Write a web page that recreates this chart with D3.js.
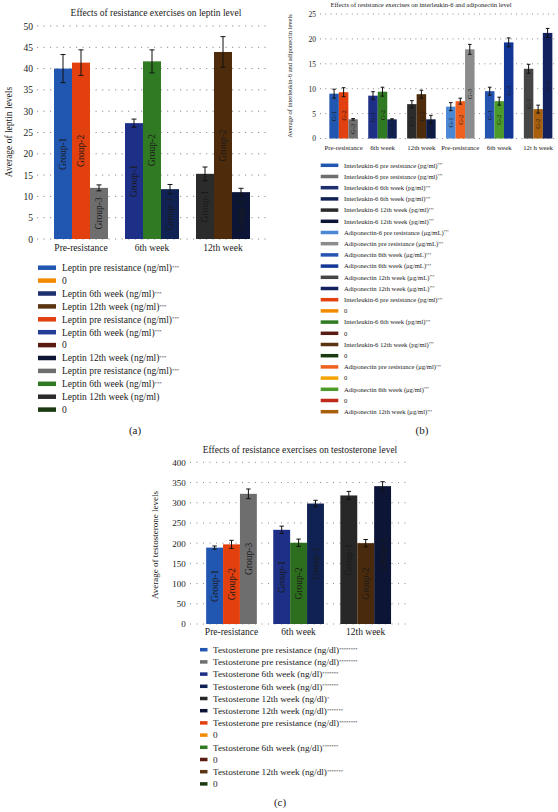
<!DOCTYPE html>
<html>
<head>
<meta charset="utf-8">
<script src="https://cdn.jsdelivr.net/npm/d3@7"></script>
<style>
  html, body { margin: 0; padding: 0; background: #ffffff; }
  svg { display: block; }
  text { font-family: "Liberation Serif", "DejaVu Serif", serif; fill: #1a1a1a; }
</style>
</head>
<body>
<script>
// ---------------- DATA ----------------
const groupLabels = ["Group-1", "Group-2", "Group-3"];
const shortGroupLabels = ["G-1", "G-2", "G-3"];

// (a) Leptin
const leptinCategories = ["Pre-resistance", "6th week", "12th week"];
const leptinValues = [[40.0, 41.4, 12.0], [27.2, 41.7, 11.7], [15.3, 43.9, 11.0]];
const leptinErrors = [[3.3, 3.0, 0.7], [0.95, 2.7, 1.1], [1.6, 3.6, 0.9]];
const leptinBarColors = [["#2157b0", "#e2400f", "#6e6e6e"], ["#1d2f86", "#2f7a22", "#0f2253"], ["#2b2b2b", "#4e2c0b", "#0c1535"]];
const leptinTicks = [0, 5, 10, 15, 20, 25, 30, 35, 40, 45, 50];
const leptinLegendLabels = ["Leptin pre resistance (ng/ml)", "0", "Leptin 6th week (ng/ml)", "Leptin 12th week (ng/ml)", "Leptin pre resistance (ng/ml)", "Leptin 6th week (ng/ml)", "0", "Leptin 12th week (ng/ml)", "Leptin pre resistance (ng/ml)", "Leptin 6th week (ng/ml)", "Leptin 12th week (ng/ml)", "0"];
const leptinLegendMarks = ["***", "", "***", "***", "***", "***", "", "***", "***", "***", "", ""];
const leptinLegendColors = ["#2157b0", "#f28b00", "#1d2f6e", "#5b3511", "#e2400f", "#233d96", "#5a1b12", "#0c1535", "#6e6e6e", "#2f7a22", "#2b2b2b", "#1b3a12"];

// (b) Interleukin-6 and adiponectin
const ilCategories = ["Pre-resistance", "6th week", "12th week", "Pre-resistance", "6th week", "12t h week"];
const ilValues = [[9.0, 9.3, 3.85], [8.6, 9.4, 3.85], [6.9, 8.9, 3.85], [6.4, 7.5, 17.9], [9.5, 7.5, 19.3], [14.0, 5.9, 21.2]];
const ilErrors = [[0.9, 0.9, 0.15], [0.8, 0.9, 0.12], [0.7, 0.8, 0.8], [0.8, 0.6, 1.0], [0.8, 0.8, 0.9], [0.9, 0.8, 0.9]];
const ilBarColors = [["#2157b0", "#e2400f", "#6e6e6e"], ["#1d2f86", "#2f7a22", "#0f2253"], ["#2b2b2b", "#4e2c0b", "#0c1b45"], ["#4a87d4", "#f0601f", "#8c8c8c"], ["#2453b0", "#4c9a2a", "#123696"], ["#454545", "#a8600f", "#13215e"]];
const ilTicks = [0, 5, 10, 15, 20, 25];
const ilLegendLabels = ["Interleukin-6 pre resistance (pg/ml)", "Interleukin-6 pre resistance (pg/ml)", "Interleukin-6 6th week (pg/ml)", "Interleukin-6 6th week (pg/ml)", "Interleukin-6 12th week (pg/ml)", "Interleukin-6 12th week (pg/ml)", "Adiponectin-6 pre resistance (\u03bcg/mL)", "Adiponectin pre resistance (\u03bcg/mL)", "Adiponectin 6th week (\u03bcg/mL)", "Adiponectin 6th week (\u03bcg/mL)", "Adiponectin 12th week (\u03bcg/mL)", "Adiponectin 12th week (\u03bcg/mL)", "Interleukin-6 pre resistance (pg/ml)", "0", "Interleukin-6 6th week (pg/ml)", "0", "Interleukin-6 12th week (pg/ml)", "0", "Adiponectin pre resistance (\u03bcg/ml)", "0", "Adiponectin 6th week (\u03bcg/ml)", "0", "Adiponectin 12th week (\u03bcg/ml)"];
const ilLegendMarks = ["***", "***", "***", "***", "***", "***", "***", "***", "***", "***", "***", "***", "***", "", "***", "", "***", "", "***", "", "***", "", "***"];
const ilLegendColors = ["#2157b0", "#6e6e6e", "#1d2f6e", "#0f2253", "#2b2b2b", "#0c1535", "#4a87d4", "#8c8c8c", "#2453b0", "#123696", "#454545", "#13215e", "#e2400f", "#f28b00", "#2f7a22", "#5a1b12", "#5b3511", "#1b3a12", "#f0601f", "#f5a300", "#4c9a2a", "#c02a18", "#a8600f"];

// (c) Testosterone
const testoCategories = ["Pre-resistance", "6th week", "12th week"];
const testoValues = [[189, 197, 322], [233, 201, 298], [318, 200, 341]];
const testoErrors = [[4, 10, 12], [9, 9, 8], [10, 9, 11]];
const testoBarColors = [["#2157b0", "#e2400f", "#6e6e6e"], ["#1d2f86", "#2d6e1e", "#0f2253"], ["#272727", "#4a2a0c", "#0c1535"]];
const testoTicks = [0, 50, 100, 150, 200, 250, 300, 350, 400];
const testoLegendLabels = ["Testosterone pre resistance (ng/dl)", "Testosterone pre resistance (ng/dl)", "Testosterone 6th week (ng/dl)", "Testosterone 6th week (ng/dl)", "Testosterone 12th week (ng/dl)", "Testosterone 12th week (ng/dl)", "Testosterone pre resistance (ng/dl)", "0", "Testosterone 6th week (ng/dl)", "0", "Testosterone 12th week (ng/dl)", "0"];
const testoLegendMarks = ["********", "********", "*******", "*******", "*", "*******", "********", "", "*******", "", "*******", ""];
const testoLegendColors = ["#2157b0", "#6e6e6e", "#1d2f86", "#0f2253", "#272727", "#0c1535", "#e2400f", "#f28b00", "#2f7a22", "#5a1b12", "#5b3511", "#1b3a12"];

// ---------------- DRAWING ----------------
const svg = d3.select("body").append("svg").attr("width", 558).attr("height", 812);

function drawPanel(o) {
  const g = svg.append("g");
  const step = (o.lastCenter - o.firstCenter) / (o.categories.length - 1);
  const pi = 1 - o.groupWidth / step;
  const x0 = d3.scaleBand().domain(o.categories.map((c, i) => i))
    .range([o.firstCenter - step / 2, o.lastCenter + step / 2])
    .paddingInner(pi).paddingOuter(pi / 2);
  const x1 = d3.scaleBand().domain(d3.range(3)).range([0, x0.bandwidth()]);
  const y = d3.scaleLinear().domain(o.domain).range([o.y0, o.yTop]);

  // gridlines
  g.selectAll(".grid").data(o.ticks).join("line")
    .attr("x1", o.gridX0).attr("x2", o.gridX1)
    .attr("y1", d => y(d)).attr("y2", d => y(d))
    .attr("stroke", "#8a8a8a").attr("stroke-width", 1)
    .attr("stroke-dasharray", o.dash);
  // y tick labels
  const yAxis = d3.axisLeft(y).tickValues(o.ticks).tickSize(0).tickPadding(0);
  const ya = g.append("g").attr("transform", `translate(${o.tickX},0)`).call(yAxis);
  ya.select(".domain").remove();
  ya.selectAll("text").attr("font-size", o.tickFont).attr("fill", "#1a1a1a")
    .style("font-family", '"Liberation Serif", serif');

  // bars
  const groups = g.selectAll(".grp").data(o.values).join("g")
    .attr("transform", (d, i) => `translate(${x0(i)},0)`);
  groups.each(function (vals, ci) {
    const gg = d3.select(this);
    vals.forEach((v, gi) => {
      const bx = x1(gi), bw = x1.bandwidth();
      gg.append("rect").attr("x", bx).attr("y", y(v)).attr("width", bw)
        .attr("height", y(o.domain[0]) - y(v)).attr("fill", o.colors[ci][gi]);
      // error bar
      const e = o.errors[ci][gi], cx = bx + bw / 2;
      gg.append("line").attr("x1", cx).attr("x2", cx).attr("y1", y(v + e)).attr("y2", y(v - e))
        .attr("stroke", "#111").attr("stroke-width", 1);
      [v + e, v - e].forEach(t => gg.append("line")
        .attr("x1", cx - o.cap).attr("x2", cx + o.cap).attr("y1", y(t)).attr("y2", y(t))
        .attr("stroke", "#111").attr("stroke-width", 1));
      // rotated label
      const my = (y(v) + y(o.domain[0])) / 2;
      gg.append("text").attr("transform", `translate(${cx},${my}) rotate(-90)`)
        .attr("text-anchor", "middle").attr("dy", "0.35em")
        .attr("font-size", o.barFont).attr("fill", "#111").text(o.barLabels[gi]);
    });
  });

  // x labels
  g.selectAll(".xl").data(o.categories).join("text")
    .attr("x", (d, i) => x0(i) + x0.bandwidth() / 2).attr("y", o.xLabelY)
    .attr("text-anchor", "middle").attr("font-size", o.xFont).text(d => d);

  // title
  g.append("text").attr("x", o.titleX).attr("y", o.titleY).attr("text-anchor", "middle")
    .attr("font-size", o.titleFont).text(o.title);
  // y label
  g.append("text").attr("transform", `translate(${o.yLabelX},${o.yLabelY}) rotate(-90)`)
    .attr("text-anchor", "middle").attr("dy", "0.35em").attr("font-size", o.yLabelFont).text(o.yLabel);

  // legend
  const lg = g.selectAll(".lg").data(o.legendLabels).join("g")
    .attr("transform", (d, i) => `translate(0,${o.legY0 + i * o.legStep})`);
  lg.append("rect").attr("x", o.swX0).attr("y", -o.swH / 2).attr("width", o.swX1 - o.swX0).attr("height", o.swH)
    .attr("fill", (d, i) => o.legendColors[i]);
  const lt = lg.append("text").attr("x", o.legTextX).attr("dy", "0.35em").attr("font-size", o.legFont);
  lt.append("tspan").text(d => d);
  lt.append("tspan").attr("dy", "-0.45em").attr("font-size", o.legFont * 0.5)
    .text((d, i) => o.legendMarks[i]);

  // panel label
  g.append("text").attr("x", o.panelX).attr("y", o.panelY).attr("text-anchor", "middle")
    .attr("font-size", 11).text(o.panel);
}

drawPanel({
  categories: leptinCategories, values: leptinValues, errors: leptinErrors, colors: leptinBarColors,
  ticks: leptinTicks, domain: [0, 50], y0: 239, yTop: 26,
  firstCenter: 81, lastCenter: 223, groupWidth: 54,
  gridX0: 37, gridX1: 268, dash: "1.2,5.3", tickX: 33, tickFont: 9.5,
  cap: 2.5, barFont: 9.5, barLabels: groupLabels,
  xLabelY: 250.5, xFont: 9.5,
  title: "Effects of resistance exercises on leptin level", titleX: 156, titleY: 16, titleFont: 9.5,
  yLabel: "Average of leptin levels", yLabelX: 9, yLabelY: 132, yLabelFont: 9.5,
  legendLabels: leptinLegendLabels, legendMarks: leptinLegendMarks, legendColors: leptinLegendColors,
  legY0: 267.7, legStep: 12.9, swX0: 38, swX1: 56, swH: 4.5, legTextX: 62, legFont: 9.5,
  panel: "(a)", panelX: 135, panelY: 434
});

drawPanel({
  categories: ilCategories, values: ilValues, errors: ilErrors, colors: ilBarColors,
  ticks: ilTicks, domain: [0, 25], y0: 138.5, yTop: 14,
  firstCenter: 343.6, lastCenter: 538.1, groupWidth: 28.5,
  gridX0: 320, gridX1: 557, dash: "1,4.3", tickX: 316, tickFont: 7.5,
  cap: 1.8, barFont: 6.5, barLabels: shortGroupLabels,
  xLabelY: 149.8, xFont: 6.8,
  title: "Effects of resistance exercises on interleukin-6 and adiponectin level", titleX: 421, titleY: 6.5, titleFont: 6.6,
  yLabel: "Average of interleukin-6 and adiponectin levels", yLabelX: 290, yLabelY: 76, yLabelFont: 6.5,
  legendLabels: ilLegendLabels, legendMarks: ilLegendMarks, legendColors: ilLegendColors,
  legY0: 165.3, legStep: 11.2, swX0: 320.7, swX1: 338.3, swH: 3.5, legTextX: 344, legFont: 6.6,
  panel: "(b)", panelX: 422, panelY: 434
});

drawPanel({
  categories: testoCategories, values: testoValues, errors: testoErrors, colors: testoBarColors,
  ticks: testoTicks, domain: [0, 400], y0: 624, yTop: 462.3,
  firstCenter: 231.5, lastCenter: 365.7, groupWidth: 50.7,
  gridX0: 190, gridX1: 410, dash: "1,5.5", tickX: 185.7, tickFont: 9,
  cap: 2.2, barFont: 9.5, barLabels: groupLabels,
  xLabelY: 634.5, xFont: 9.5,
  title: "Effects of resistance exercises on testosterone level", titleX: 300, titleY: 453, titleFont: 9.5,
  yLabel: "Average of testosterone levels", yLabelX: 155, yLabelY: 545, yLabelFont: 9,
  legendLabels: testoLegendLabels, legendMarks: testoLegendMarks, legendColors: testoLegendColors,
  legY0: 649.7, legStep: 12.2, swX0: 200, swX1: 207.5, swH: 3.5, legTextX: 213, legFont: 9.2,
  panel: "(c)", panelX: 280, panelY: 806
});
</script>
</body>
</html>
